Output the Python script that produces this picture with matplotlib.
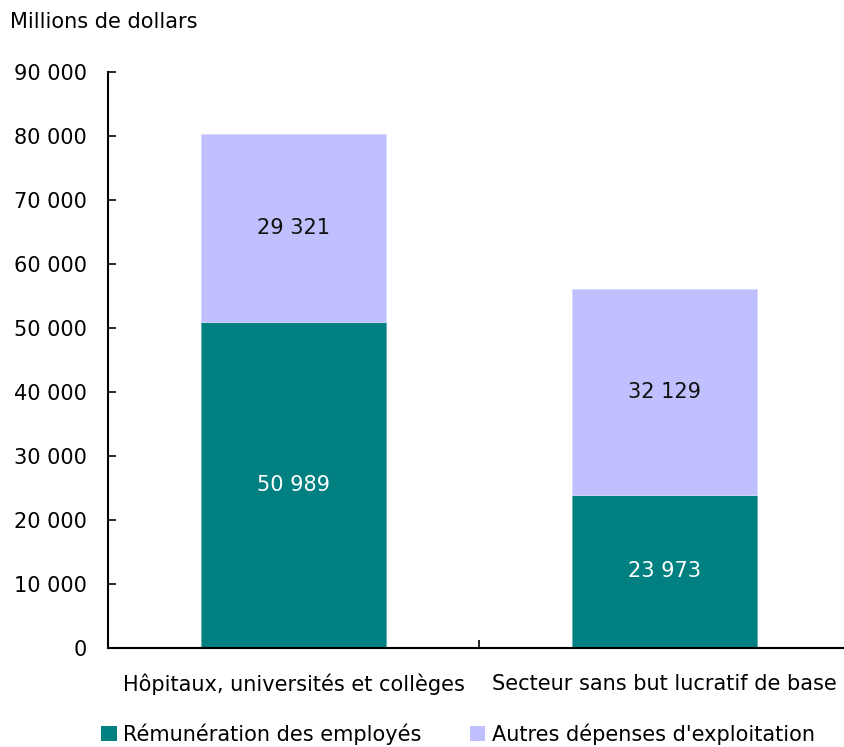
import numpy as np
import matplotlib
matplotlib.use('Agg')
import matplotlib.pyplot as plt
from matplotlib.patches import Patch

categories = ['Hôpitaux, universités et collèges', 'Secteur sans but lucratif de base']
remuneration = [50989, 23973]
autres = [29321, 32129]
series_names = ['Rémunération des employés', "Autres dépenses d'exploitation"]

teal = '#008080'
lavender = '#C0C0FF'
fs = 15

plt.rcParams['font.family'] = ['DejaVu Sans']

fig = plt.figure(figsize=(8.45, 7.47), dpi=100)
ax = fig.add_axes([108/845, 99/747, 742/845, 576/747])

x = np.arange(len(categories))
ax.bar(x, remuneration, width=0.5, color=teal, edgecolor='#5fb0b0', linewidth=0.6)
ax.bar(x, autres, width=0.5, bottom=remuneration, color=lavender,
       edgecolor='#d8d8ff', linewidth=0.6)

def fmt(v):
    return f'{v:,}'.replace(',', ' ')

for i in range(len(categories)):
    ax.text(x[i], remuneration[i] / 2, fmt(remuneration[i]), ha='center', va='center',
            color='white', fontsize=fs)
    ax.text(x[i], remuneration[i] + autres[i] / 2, fmt(autres[i]), ha='center', va='center',
            color='#111111', fontsize=fs)

ax.set_xlim(-0.5, 1.5)
ax.set_ylim(0, 90000)
ax.set_yticks(np.arange(0, 90001, 10000))
ax.set_yticklabels([fmt(v) for v in range(0, 90001, 10000)], fontsize=fs)
ax.tick_params(axis='y', direction='in', length=6, width=1.2, pad=15, colors='black')

ax.set_xticks([0.5])
ax.set_xticklabels([''])
ax.tick_params(axis='x', direction='in', length=6, width=1.2)
for i, c in enumerate(categories):
    ax.text(x[i], -0.063, c, transform=ax.get_xaxis_transform(), ha='center', va='center',
            fontsize=fs)

for s in ['top', 'right']:
    ax.spines[s].set_visible(False)
ax.spines['left'].set_linewidth(1.5)
ax.spines['bottom'].set_linewidth(1.5)

fig.text(10/845, 1 - 22/747, 'Millions de dollars', ha='left', va='center', fontsize=fs)

handles = [Patch(facecolor=teal, edgecolor='none'), Patch(facecolor=lavender, edgecolor='none')]
fig.legend(handles, series_names, loc='center', bbox_to_anchor=(458/845, 1 - 734/747),
           ncol=2, frameon=False, fontsize=fs, handlelength=0.75, handleheight=0.75,
           handletextpad=0.3, columnspacing=2.3, borderpad=0)

fig.savefig('out.png', dpi=100)
